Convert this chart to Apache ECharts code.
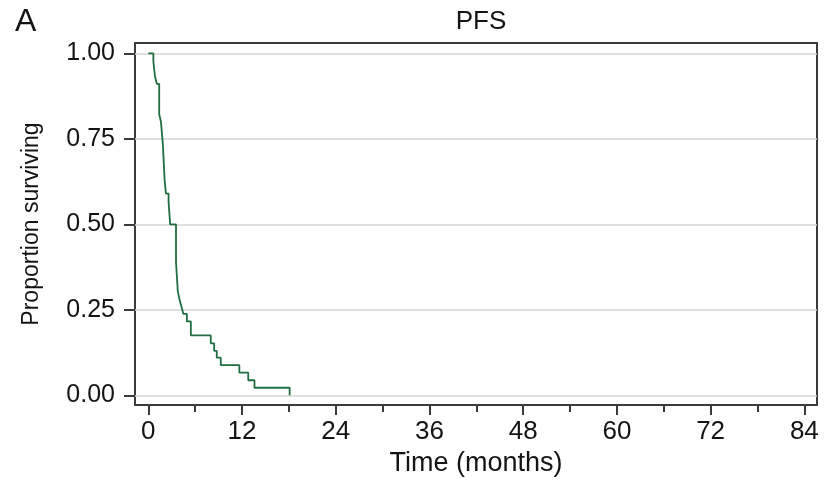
<!DOCTYPE html>
<html>
<head>
<meta charset="utf-8">
<script src="https://cdn.jsdelivr.net/npm/echarts@6/dist/echarts.min.js"></script>
<style>
  html, body { margin: 0; padding: 0; background: #fff; }
  #chart { width: 827px; height: 478px; }
</style>
</head>
<body>
<div id="chart"></div>
<script>
// Kaplan-Meier step points (months, proportion surviving)
var times = [0, 0.65, 0.85, 1.1, 1.4, 1.62, 1.87, 2.09, 2.26, 2.6, 2.8, 3.55, 3.78, 4.0, 4.25, 4.5, 4.94, 5.45, 8.0, 8.43, 8.77, 9.28, 11.66, 12.8, 13.6, 18.1]
var surv = [1.0, 0.978, 0.933, 0.911, 0.822, 0.80, 0.733, 0.63, 0.59, 0.566, 0.50, 0.389, 0.304, 0.28, 0.259, 0.238, 0.216, 0.175, 0.152, 0.13, 0.11, 0.088, 0.066, 0.044, 0.022, 0.0]
var xMajor = [0, 12, 24, 36, 48, 60, 72, 84]
var xMinor = [6, 18, 30, 42, 54, 66, 78]
var yTicks = [0, 0.25, 0.5, 0.75, 1]

var font = 'Liberation Sans, Arial, Helvetica, sans-serif'
var textColor = '#141414'
var frameColor = '#3a3a3a'

var chart = echarts.init(document.getElementById('chart'))

var option = {
  animation: false,
  title: [
    {
      text: 'A',
      left: 10,
      top: 1,
      textStyle: { color: textColor, fontFamily: font, fontSize: 32, fontWeight: 'normal' }
    },
    {
      text: 'PFS',
      left: 476,
      top: 4,
      textAlign: 'center',
      textStyle: { color: textColor, fontFamily: font, fontSize: 26, fontWeight: 'normal' }
    }
  ],
  grid: {
    left: 135,
    right: 10,
    top: 43,
    bottom: 73,
    show: true,
    borderColor: frameColor,
    borderWidth: 2,
    containLabel: false,
    outerBoundsMode: 'none'
  },
  xAxis: [
    {
      type: 'value',
      position: 'bottom',
      min: -1.7,
      max: 85.62,
      name: 'Time (months)',
      nameLocation: 'middle',
      nameGap: 43,
      nameTextStyle: { color: textColor, fontFamily: font, fontSize: 27 },
      axisLine: { show: false, onZero: false },
      axisTick: {
        show: true,
        inside: false,
        length: 10,
        customValues: xMajor,
        lineStyle: { color: frameColor, width: 2 }
      },
      axisLabel: {
        customValues: xMajor,
        margin: 14,
        color: textColor,
        fontFamily: font,
        fontSize: 26
      },
      splitLine: { show: false }
    },
    {
      type: 'value',
      position: 'bottom',
      min: -1.7,
      max: 85.62,
      axisLine: { show: false, onZero: false },
      axisTick: {
        show: true,
        inside: false,
        length: 7,
        customValues: xMinor,
        lineStyle: { color: frameColor, width: 2 }
      },
      axisLabel: { show: false },
      splitLine: { show: false }
    }
  ],
  yAxis: {
    type: 'value',
    min: -0.0284,
    max: 1.0304,
    name: 'Proportion surviving',
    nameLocation: 'middle',
    nameGap: 92,
    nameTextStyle: { color: textColor, fontFamily: font, fontSize: 23 },
    axisLine: { show: false, onZero: false },
    axisTick: {
      show: true,
      inside: false,
      length: 11,
      customValues: yTicks,
      lineStyle: { color: frameColor, width: 2 }
    },
    axisLabel: {
      customValues: yTicks,
      margin: 20,
      color: textColor,
      fontFamily: font,
      fontSize: 25,
      formatter: function (v) { return v.toFixed(2) }
    },
    splitLine: {
      show: true,
      lineStyle: { color: '#d4d4d4', width: 1.5 }
    }
  },
  series: [
    {
      type: 'line',
      step: 'end',
      showSymbol: false,
      data: times.map(function (t, i) { return [t, surv[i]] }),
      lineStyle: { color: '#1f6e42', width: 1.8 },
      itemStyle: { color: '#1f6e42' }
    }
  ]
}

chart.setOption(option)
window.addEventListener('resize', function () {
  chart.resize()
})
</script>
</body>
</html>
